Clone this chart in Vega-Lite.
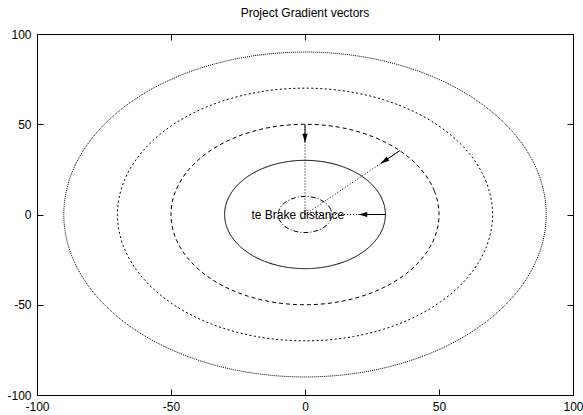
{
  "$schema": "https://vega.github.io/schema/vega-lite/v6.json",
  "width": 536,
  "height": 361,
  "autosize": {"type": "none"},
  "padding": {"left": 37, "top": 34, "right": 10, "bottom": 20},
  "background": "white",
  "title": {"text": "Project Gradient vectors", "font": "Liberation Sans", "fontSize": 12, "fontWeight": "normal", "color": "black", "offset": 8, "anchor": "middle"},
  "config": {
    "view": {"stroke": "black", "strokeWidth": 1},
    "axis": {"domain": false, "grid": false, "tickColor": "black", "tickSize": -6, "labelPadding": 12, "labelFont": "Liberation Sans", "labelFontSize": 12, "labelColor": "black", "labelFlush": false, "labelOverlap": false, "title": null, "labelExpr": "'' + datum.value"}
  },
  "datasets": {
    "rings": [
      {"r":10,"i":0,"x":10,"y":0},{"r":10,"i":1,"x":9.66,"y":2.59},{"r":10,"i":2,"x":8.66,"y":5},{"r":10,"i":3,"x":7.07,"y":7.07},{"r":10,"i":4,"x":5,"y":8.66},{"r":10,"i":5,"x":2.59,"y":9.66},{"r":10,"i":6,"x":0,"y":10},{"r":10,"i":7,"x":-2.59,"y":9.66},{"r":10,"i":8,"x":-5,"y":8.66},{"r":10,"i":9,"x":-7.07,"y":7.07},{"r":10,"i":10,"x":-8.66,"y":5},{"r":10,"i":11,"x":-9.66,"y":2.59},{"r":10,"i":12,"x":-10,"y":0},{"r":10,"i":13,"x":-9.66,"y":-2.59},{"r":10,"i":14,"x":-8.66,"y":-5},{"r":10,"i":15,"x":-7.07,"y":-7.07},{"r":10,"i":16,"x":-5,"y":-8.66},{"r":10,"i":17,"x":-2.59,"y":-9.66},{"r":10,"i":18,"x":0,"y":-10},{"r":10,"i":19,"x":2.59,"y":-9.66},{"r":10,"i":20,"x":5,"y":-8.66},{"r":10,"i":21,"x":7.07,"y":-7.07},{"r":10,"i":22,"x":8.66,"y":-5},{"r":10,"i":23,"x":9.66,"y":-2.59},
      {"r":30,"i":0,"x":30,"y":0},{"r":30,"i":1,"x":28.98,"y":7.76},{"r":30,"i":2,"x":25.98,"y":15},{"r":30,"i":3,"x":21.21,"y":21.21},{"r":30,"i":4,"x":15,"y":25.98},{"r":30,"i":5,"x":7.76,"y":28.98},{"r":30,"i":6,"x":0,"y":30},{"r":30,"i":7,"x":-7.76,"y":28.98},{"r":30,"i":8,"x":-15,"y":25.98},{"r":30,"i":9,"x":-21.21,"y":21.21},{"r":30,"i":10,"x":-25.98,"y":15},{"r":30,"i":11,"x":-28.98,"y":7.76},{"r":30,"i":12,"x":-30,"y":0},{"r":30,"i":13,"x":-28.98,"y":-7.76},{"r":30,"i":14,"x":-25.98,"y":-15},{"r":30,"i":15,"x":-21.21,"y":-21.21},{"r":30,"i":16,"x":-15,"y":-25.98},{"r":30,"i":17,"x":-7.76,"y":-28.98},{"r":30,"i":18,"x":0,"y":-30},{"r":30,"i":19,"x":7.76,"y":-28.98},{"r":30,"i":20,"x":15,"y":-25.98},{"r":30,"i":21,"x":21.21,"y":-21.21},{"r":30,"i":22,"x":25.98,"y":-15},{"r":30,"i":23,"x":28.98,"y":-7.76},
      {"r":50,"i":0,"x":50,"y":0},{"r":50,"i":1,"x":48.3,"y":12.94},{"r":50,"i":2,"x":43.3,"y":25},{"r":50,"i":3,"x":35.36,"y":35.36},{"r":50,"i":4,"x":25,"y":43.3},{"r":50,"i":5,"x":12.94,"y":48.3},{"r":50,"i":6,"x":0,"y":50},{"r":50,"i":7,"x":-12.94,"y":48.3},{"r":50,"i":8,"x":-25,"y":43.3},{"r":50,"i":9,"x":-35.36,"y":35.36},{"r":50,"i":10,"x":-43.3,"y":25},{"r":50,"i":11,"x":-48.3,"y":12.94},{"r":50,"i":12,"x":-50,"y":0},{"r":50,"i":13,"x":-48.3,"y":-12.94},{"r":50,"i":14,"x":-43.3,"y":-25},{"r":50,"i":15,"x":-35.36,"y":-35.36},{"r":50,"i":16,"x":-25,"y":-43.3},{"r":50,"i":17,"x":-12.94,"y":-48.3},{"r":50,"i":18,"x":0,"y":-50},{"r":50,"i":19,"x":12.94,"y":-48.3},{"r":50,"i":20,"x":25,"y":-43.3},{"r":50,"i":21,"x":35.36,"y":-35.36},{"r":50,"i":22,"x":43.3,"y":-25},{"r":50,"i":23,"x":48.3,"y":-12.94},
      {"r":70,"i":0,"x":70,"y":0},{"r":70,"i":1,"x":67.61,"y":18.12},{"r":70,"i":2,"x":60.62,"y":35},{"r":70,"i":3,"x":49.5,"y":49.5},{"r":70,"i":4,"x":35,"y":60.62},{"r":70,"i":5,"x":18.12,"y":67.61},{"r":70,"i":6,"x":0,"y":70},{"r":70,"i":7,"x":-18.12,"y":67.61},{"r":70,"i":8,"x":-35,"y":60.62},{"r":70,"i":9,"x":-49.5,"y":49.5},{"r":70,"i":10,"x":-60.62,"y":35},{"r":70,"i":11,"x":-67.61,"y":18.12},{"r":70,"i":12,"x":-70,"y":0},{"r":70,"i":13,"x":-67.61,"y":-18.12},{"r":70,"i":14,"x":-60.62,"y":-35},{"r":70,"i":15,"x":-49.5,"y":-49.5},{"r":70,"i":16,"x":-35,"y":-60.62},{"r":70,"i":17,"x":-18.12,"y":-67.61},{"r":70,"i":18,"x":0,"y":-70},{"r":70,"i":19,"x":18.12,"y":-67.61},{"r":70,"i":20,"x":35,"y":-60.62},{"r":70,"i":21,"x":49.5,"y":-49.5},{"r":70,"i":22,"x":60.62,"y":-35},{"r":70,"i":23,"x":67.61,"y":-18.12},
      {"r":90,"i":0,"x":90,"y":0},{"r":90,"i":1,"x":86.93,"y":23.29},{"r":90,"i":2,"x":77.94,"y":45},{"r":90,"i":3,"x":63.64,"y":63.64},{"r":90,"i":4,"x":45,"y":77.94},{"r":90,"i":5,"x":23.29,"y":86.93},{"r":90,"i":6,"x":0,"y":90},{"r":90,"i":7,"x":-23.29,"y":86.93},{"r":90,"i":8,"x":-45,"y":77.94},{"r":90,"i":9,"x":-63.64,"y":63.64},{"r":90,"i":10,"x":-77.94,"y":45},{"r":90,"i":11,"x":-86.93,"y":23.29},{"r":90,"i":12,"x":-90,"y":0},{"r":90,"i":13,"x":-86.93,"y":-23.29},{"r":90,"i":14,"x":-77.94,"y":-45},{"r":90,"i":15,"x":-63.64,"y":-63.64},{"r":90,"i":16,"x":-45,"y":-77.94},{"r":90,"i":17,"x":-23.29,"y":-86.93},{"r":90,"i":18,"x":0,"y":-90},{"r":90,"i":19,"x":23.29,"y":-86.93},{"r":90,"i":20,"x":45,"y":-77.94},{"r":90,"i":21,"x":63.64,"y":-63.64},{"r":90,"i":22,"x":77.94,"y":-45},{"r":90,"i":23,"x":86.93,"y":-23.29}
    ],
    "vectors": [
      {"k":"v","x0":0,"y0":0,"x":0,"y":50,"xe":0,"ye":40},
      {"k":"d","x0":0,"y0":0,"x":35.36,"y":35.36,"xe":28.28,"ye":28.28},
      {"k":"h","x0":0,"y0":0,"x":30,"y":0,"xe":20,"ye":0}
    ],
    "labels": [{"x":-20,"y":0,"t":"te Brake distance"}]
  },
  "layer": [
    {
      "data": {"name": "rings"},
      "mark": {"type": "line", "interpolate": "cardinal-closed", "color": "black", "strokeWidth": 1},
      "encoding": {
        "x": {"field": "x", "type": "quantitative", "scale": {"domain": [-100, 100], "nice": false, "zero": false}, "axis": {"orient": "bottom", "values": [-100, -50, 0, 50, 100]}},
        "y": {"field": "y", "type": "quantitative", "scale": {"domain": [-100, 100], "nice": false, "zero": false}, "axis": {"orient": "left", "values": [-100, -50, 0, 50, 100]}},
        "detail": {"field": "r", "type": "nominal"},
        "order": {"field": "i", "type": "quantitative"},
        "strokeDash": {"field": "r", "type": "nominal", "scale": {"domain": [10, 30, 50, 70, 90], "range": [[5, 2, 1, 2], [1, 0], [4, 3], [2, 2.5], [1, 1]]}, "legend": null}
      }
    },
    {
      "data": {"name": "vectors"},
      "mark": {"type": "rule", "color": "black", "strokeWidth": 1, "strokeDash": [1, 2]},
      "encoding": {
        "x": {"field": "x0", "type": "quantitative", "axis": {"orient": "top", "labels": false, "values": [-100, -50, 0, 50, 100]}},
        "y": {"field": "y0", "type": "quantitative", "axis": {"orient": "right", "labels": false, "values": [-100, -50, 0, 50, 100]}},
        "x2": {"field": "x"},
        "y2": {"field": "y"}
      }
    },
    {
      "data": {"name": "vectors"},
      "mark": {"type": "rule", "color": "black", "strokeWidth": 1},
      "encoding": {
        "x": {"field": "x", "type": "quantitative", "axis": null},
        "y": {"field": "y", "type": "quantitative", "axis": null},
        "x2": {"field": "xe"},
        "y2": {"field": "ye"}
      }
    },
    {
      "data": {"name": "vectors"},
      "transform": [{"filter": "datum.k === 'v'"}],
      "mark": {"type": "point", "shape": "M0,0 L-0.3,1 L0.3,1 Z", "filled": true, "color": "black", "size": 300, "angle": 180, "opacity": 1},
      "encoding": {
        "x": {"field": "xe", "type": "quantitative", "axis": null},
        "y": {"field": "ye", "type": "quantitative", "axis": null}
      }
    },
    {
      "data": {"name": "vectors"},
      "transform": [{"filter": "datum.k === 'd'"}],
      "mark": {"type": "point", "shape": "M0,0 L-0.3,1 L0.3,1 Z", "filled": true, "color": "black", "size": 300, "angle": 236, "opacity": 1},
      "encoding": {
        "x": {"field": "xe", "type": "quantitative", "axis": null},
        "y": {"field": "ye", "type": "quantitative", "axis": null}
      }
    },
    {
      "data": {"name": "vectors"},
      "transform": [{"filter": "datum.k === 'h'"}],
      "mark": {"type": "point", "shape": "M0,0 L-0.3,1 L0.3,1 Z", "filled": true, "color": "black", "size": 300, "angle": 270, "opacity": 1},
      "encoding": {
        "x": {"field": "xe", "type": "quantitative", "axis": null},
        "y": {"field": "ye", "type": "quantitative", "axis": null}
      }
    },
    {
      "data": {"name": "labels"},
      "mark": {"type": "text", "align": "left", "baseline": "middle", "font": "Liberation Sans", "fontSize": 12, "color": "black"},
      "encoding": {
        "x": {"field": "x", "type": "quantitative", "axis": null},
        "y": {"field": "y", "type": "quantitative", "axis": null},
        "text": {"field": "t"}
      }
    }
  ],
  "resolve": {"axis": {"x": "independent", "y": "independent"}}
}
